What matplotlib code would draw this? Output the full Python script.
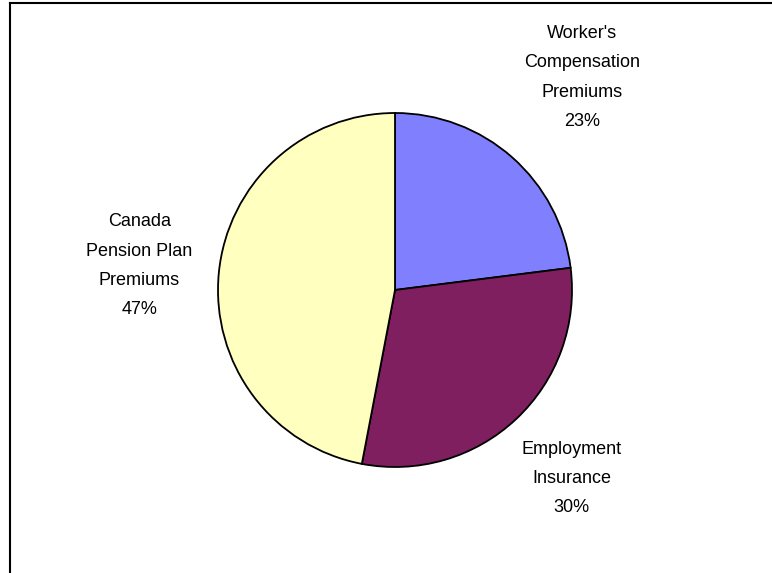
import numpy as np
import matplotlib
matplotlib.use('Agg')
import matplotlib.pyplot as plt
from matplotlib.lines import Line2D

# payroll cost breakdown
labels = ["Worker's\nCompensation\nPremiums", "Employment\nInsurance", "Canada\nPension Plan\nPremiums"]
shares = [23, 30, 47]
colors = ['#8080FF', '#7F1F5F', '#FFFFC0']
label_dist = [1.6, 1.46, 1.45]

plt.rcParams['font.family'] = ['Liberation Sans', 'DejaVu Sans']

W, H = 772, 573
fig = plt.figure(figsize=(W / 100, H / 100), dpi=100)
ax = fig.add_axes([0, 0, 1, 1])

cx, cy, r = 395, H - 290, 177
wedges, _ = ax.pie(shares, colors=colors, startangle=90, counterclock=False,
                   center=(cx, cy), radius=r, frame=True,
                   wedgeprops=dict(edgecolor='black', linewidth=1.3))
ax.set_xlim(0, W)
ax.set_ylim(0, H)
ax.axis('off')

for w, lab, pct, d in zip(wedges, labels, shares, label_dist):
    mid = np.deg2rad((w.theta1 + w.theta2) / 2)
    x = cx + d * r * np.cos(mid)
    y = cy + d * r * np.sin(mid)
    ax.text(x, y, f"{lab}\n{pct}%", ha='center', va='center',
            fontsize=13, linespacing=1.95, color='black')

# chart area border (top and left edges visible)
fig.add_artist(Line2D([10 / W, 10 / W], [0, 1 - 3 / H], transform=fig.transFigure,
                      color='black', linewidth=1.5))
fig.add_artist(Line2D([10 / W, 1], [1 - 3 / H, 1 - 3 / H], transform=fig.transFigure,
                      color='black', linewidth=1.5))

fig.savefig('out.png', dpi=100)
